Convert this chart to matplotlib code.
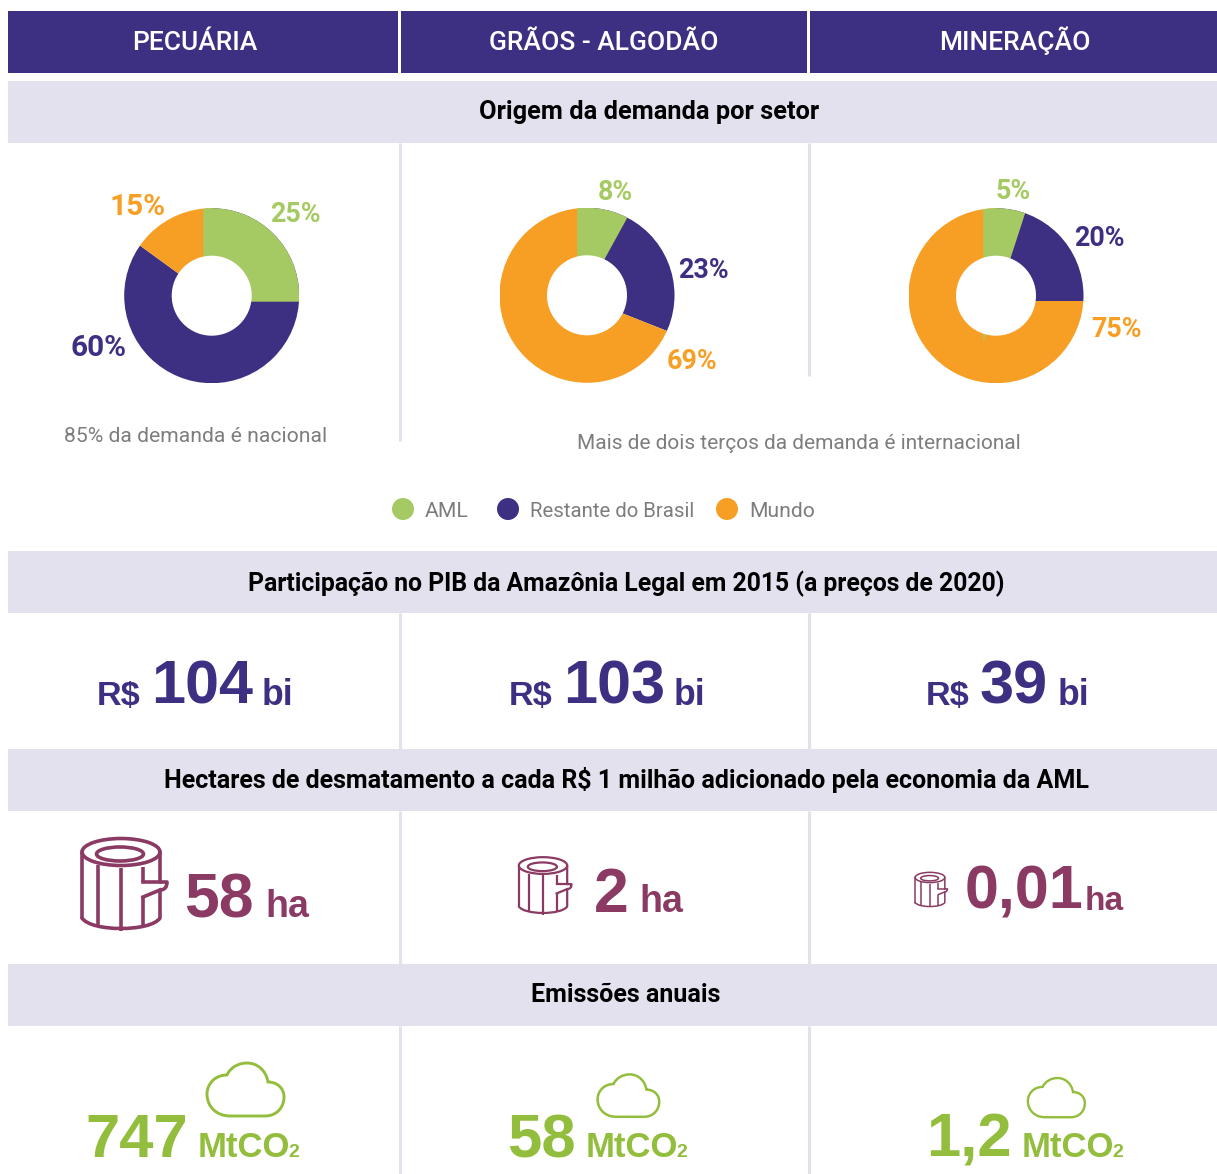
import matplotlib
matplotlib.use("Agg")
from matplotlib import pyplot as plt
from matplotlib.patches import Rectangle, Circle, Ellipse, PathPatch
from matplotlib.path import Path

W, H = 1217, 1174

PURPLE = "#3d2f82"
GREEN = "#a6ca63"
ORANGE = "#f79f24"
BAND = "#e3e1ee"
MAROON = "#8a3a63"
LIME = "#93bd3c"
GRAY = "#7d7d7d"

sectors = ["PECUÁRIA", "GRÃOS - ALGODÃO", "MINERAÇÃO"]
origins = ["AML", "Restante do Brasil", "Mundo"]
origin_colors = [GREEN, PURPLE, ORANGE]
demand_pecuaria = [25, 60, 15]
demand_graos = [8, 23, 69]
demand_mineracao = [5, 20, 75]
pib = ["104", "103", "39"]
desmatamento = ["58", "2", "0,01"]
emissoes = ["747", "58", "1,2"]
titles = ["Origem da demanda por setor",
          "Participação no PIB da Amazônia Legal em 2015 (a preços de 2020)",
          "Hectares de desmatamento a cada R$ 1 milhão adicionado pela economia da AML",
          "Emissões anuais"]
notes = ["85% da demanda é nacional", "Mais de dois terços da demanda é internacional"]

fig = plt.figure(figsize=(W / 100, H / 100), dpi=100, facecolor="white")
cv = fig.add_axes([0, 0, 1, 1])
cv.set_xlim(0, W)
cv.set_ylim(H, 0)
cv.axis("off")


def put(x, y, s, size, color, weight="normal", family="Roboto", ha="left", va="baseline"):
    cv.text(x, y, s, fontsize=size, color=color, fontweight=weight, family=family, ha=ha, va=va)


# header cells and grey bands
for x0, x1, cx, name in zip([8, 401, 810], [397.5, 806.5, 1217], [194.5, 604, 1015], sectors):
    cv.add_patch(Rectangle((x0, 11), x1 - x0, 62, fc=PURPLE, ec="none"))
    put(cx, 50, name, 19, "white", "medium", ha="center")

for y0, t, cx, base, size in zip([81, 551, 749, 964], titles, [649, 626, 626, 626],
                                 [119, 591, 788, 1002], [18.3, 17.8, 18, 18]):
    cv.add_patch(Rectangle((8, y0), 1209, 62, fc=BAND, ec="none"))
    put(cx, base, t, size, "black", "bold", ha="center")

# dividers
for x, y0, y1 in [(400, 143, 441), (809, 143, 376), (400, 613, 749), (809, 613, 749),
                  (400, 811, 964), (809, 811, 964), (400, 1026, 1174), (809, 1026, 1174)]:
    cv.plot([x, x], [y0, y1], color=BAND, lw=2.2, solid_capstyle="butt")


def donut(cx, cy, vals, base_off, green_off, r=87.5, inner=40):
    # the slices of the original do not meet in the ring's centre, so the pies are
    # drawn around shifted centres and cut to the ring
    ax = fig.add_axes([(cx - r) / W, 1 - (cy + r) / H, 2 * r / W, 2 * r / H])
    ring = Circle((0, 0), r, fc="none", ec="none")
    ax.add_patch(ring)
    base, _ = ax.pie([vals[0] + vals[1], vals[2]], colors=[PURPLE, ORANGE], startangle=90,
                     counterclock=False, radius=300, center=(base_off[0], -base_off[1]),
                     wedgeprops=dict(linewidth=0))
    top, _ = ax.pie([vals[0], 100 - vals[0]], colors=[GREEN, "none"], startangle=90,
                    counterclock=False, radius=300, center=(green_off[0], -green_off[1]),
                    wedgeprops=dict(linewidth=0))
    for w in base + top:
        w.set_clip_on(True)
        w.set_clip_path(ring)
    ax.add_patch(Circle((0, 0), inner, fc="white", ec="none", zorder=5))
    ax.set_xlim(-r, r)
    ax.set_ylim(-r, r)
    ax.patch.set_alpha(0)


donut(211.7, 295.7, demand_pecuaria, (0, 2), (-8.4, 6))
donut(587, 295.3, demand_graos, (0, 4), (-9.7, 13.4))
donut(996, 295.7, demand_mineracao, (0, 5.3), (-12.7, 46.3))

# percentage labels, two of them are printed larger
for vals, spots, sizes in [(demand_pecuaria, [(270, 222), (71, 356), (109, 215)], [19.4, 21.4, 21.4]),
                           (demand_graos, [(598, 200), (678, 278), (667, 369)], [19.4, 19.4, 19.4]),
                           (demand_mineracao, [(996, 199), (1074, 246), (1091, 337)], [19.4, 19.4, 19.4])]:
    for v, c, (x, y), size in zip(vals, origin_colors, spots, sizes):
        put(x, y, f"{v}%", size, c, "bold")

put(196, 442, notes[0], 15.2, GRAY, ha="center")
put(799, 449, notes[1], 15.05, GRAY, ha="center")

# legend
for x, c in zip([403, 508, 727], origin_colors):
    cv.add_patch(Circle((x, 509), 11, fc=c, ec="none"))
for x, t, size in zip([425, 530, 749], origins, [15.2, 14.7, 15.2]):
    put(x, 517, t, size, GRAY)


def log_icon(cx, cy, s, lw):
    # cx, cy is the middle of the trunk, s=1 is the big icon
    kw = dict(fc="none", ec=MAROON, lw=lw, joinstyle="round", capstyle="round")
    cv.add_patch(Ellipse((cx, cy - 33 * s), 78 * s, 27 * s, **kw))
    cv.add_patch(Ellipse((cx - 1 * s, cy - 31 * s), 47 * s, 14 * s, **kw))
    verts = [(cx - 39 * s, cy - 33 * s), (cx - 39 * s, cy + 33 * s)]
    cv.add_patch(PathPatch(Path(verts, [Path.MOVETO, Path.LINETO]), **kw))
    # bottom curve and right side with the branch stub
    pts = [(-39, 33), (-30, 47), (30, 47), (39, 33), (39, 5), (46, 5), (46, -3), (39, -3), (39, -33)]
    cc = [Path.MOVETO, Path.CURVE4, Path.CURVE4, Path.CURVE4, Path.LINETO,
          Path.CURVE3, Path.CURVE3, Path.LINETO, Path.LINETO]
    cv.add_patch(PathPatch(Path([(cx + a * s, cy + b * s) for a, b in pts], cc), **kw))
    for x, y0, y1 in [(-23, -20, 42), (0, -17, 46), (22, -18, -3), (22, 12, 42)]:
        cv.plot([cx + x * s, cx + x * s], [cy + y0 * s, cy + y1 * s], color=MAROON, lw=lw,
                solid_capstyle="butt")
    cv.plot([cx + 22 * s, cx + 39 * s], [cy + 12 * s, cy + 5 * s], color=MAROON, lw=lw)
    cv.plot([cx + 22 * s, cx + 39 * s], [cy - 3 * s, cy - 3 * s], color=MAROON, lw=lw)


def cloud_icon(cx, cy, s, lw):
    pts = [(-15, 26), (20, 26),
           (32, 26), (39, 17), (39, 7),
           (39, -2), (32, -8), (23, -8),
           (21, -20), (12, -27), (2, -27),
           (-7, -27), (-15, -22), (-18, -15),
           (-30, -15), (-38, -6), (-38, 4),
           (-38, 17), (-28, 26), (-15, 26)]
    codes = [Path.MOVETO, Path.LINETO] + [Path.CURVE4] * 18
    verts = [(cx + a * s, cy + b * s) for a, b in pts]
    cv.add_patch(PathPatch(Path(verts, codes), fc="none", ec=LIME, lw=lw))


BOLD = "Liberation Sans"

# PIB row
for xs, v in zip([(97, 151, 262), (509, 563, 674), (926, 980, 1058)], pib):
    put(xs[0], 705, "R$", 24.6, PURPLE, "bold", BOLD)
    put(xs[1], 704, v, 44, PURPLE, "bold", BOLD)
    put(xs[2], 705, "bi", 25.6, PURPLE, "bold", BOLD)

# deforestation row
log_icon(121, 885, 1, 2.6)
log_icon(543, 886, 0.62, 1.6)
log_icon(930, 890, 0.38, 1.1)
for x0, x1, y, yh, v, size, hs in zip([184.5, 594, 965], [265.5, 639.5, 1084.5], [917, 912, 909], [917, 912, 910],
                                      desmatamento, [45, 45, 44], [27, 27, 24]):
    put(x0, y, v, size, MAROON, "bold", BOLD)
    put(x1, yh, "ha", hs, MAROON, "bold", BOLD)

# emissions row
cloud_icon(245, 1090, 1, 2.1)
cloud_icon(628, 1096, 0.8, 1.8)
cloud_icon(1056, 1098, 0.74, 1.7)
for x0, x1, x2, v in zip([85.5, 507.5, 926.5], [197.5, 585.5, 1021.5], [288.5, 676.5, 1112.5], emissoes):
    put(x0, 1157, v, 44.4, LIME, "bold", BOLD)
    put(x1, 1157, "MtCO", 25, LIME, "bold", BOLD)
    put(x2, 1157, "2", 14, LIME, "bold", BOLD)

fig.savefig("out.png", dpi=100)
